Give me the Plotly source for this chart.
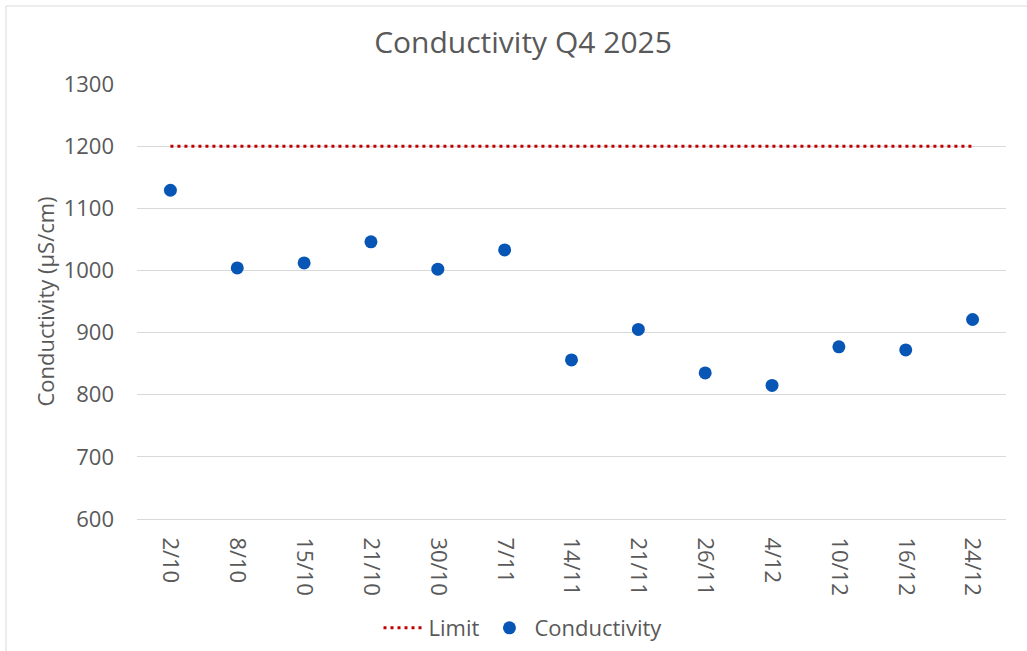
import plotly.graph_objects as go

dates = ["2/10", "8/10", "15/10", "21/10", "30/10", "7/11", "14/11",
         "21/11", "26/11", "4/12", "10/12", "16/12", "24/12"]
conductivity = [1129, 1004, 1012, 1046, 1002, 1033, 856,
                905, 835, 815, 877, 872, 921]
limit = [1200] * len(dates)

TXT = "#595959"
FONT = "Open Sans"

fig = go.Figure()
fig.add_trace(go.Scatter(
    x=dates, y=limit, mode="lines", name="Limit",
    line=dict(color="#C00000", width=3, dash="3px,4px"),
))
fig.add_trace(go.Scatter(
    x=dates, y=conductivity, mode="markers", name="Conductivity",
    marker=dict(color="#0755B5", size=13, line=dict(width=0)),
))

W, H = 1027, 651
L, R, T, B = 137, 21, 84, 132
pw, ph = W - L - R, H - T - B

fig.update_layout(
    width=W, height=H,
    margin=dict(l=L, r=R, t=T, b=B, autoexpand=False),
    paper_bgcolor="white", plot_bgcolor="white",
    font=dict(family=FONT, color=TXT, size=22),
    title=dict(text="Conductivity Q4 2025", x=523 / W, xanchor="center",
               xref="container", y=1 - 42 / H, yanchor="middle",
               font=dict(size=30, color=TXT, family=FONT)),
    showlegend=True,
    legend=dict(orientation="h", x=(523 - L) / pw, xanchor="center",
                y=-(628 - (T + ph)) / ph, yanchor="middle",
                font=dict(size=22, color=TXT), itemwidth=40,
                bgcolor="rgba(0,0,0,0)"),
    xaxis=dict(type="category", range=[-0.5, len(dates) - 0.5],
               showgrid=False, zeroline=False, showline=True,
               linecolor="#D9D9D9", linewidth=1, ticks="",
               tickangle=90, tickfont=dict(size=22, color=TXT),
               ticklabelstandoff=13, automargin=False),
    yaxis=dict(range=[600, 1300], dtick=100, showgrid=True,
               gridcolor="#D9D9D9", gridwidth=1, zeroline=False,
               showline=False, ticks="", tickfont=dict(size=22, color=TXT),
               ticklabelstandoff=22, automargin=False,
               title=dict(text="Conductivity (µS/cm)", standoff=2,
                          font=dict(size=22, color=TXT))),
    shapes=[dict(type="rect", xref="paper", yref="paper",
                 x0=(6 - L) / pw, x1=1.2,
                 y0=-0.6, y1=1 + (T - 6) / ph,
                 line=dict(color="#D9D9D9", width=1), layer="below")],
)

fig.write_html("out.html",
               config={"displayModeBar": False},
               post_script="document.body.style.margin='0';"
                           "document.body.style.overflow='hidden';")
